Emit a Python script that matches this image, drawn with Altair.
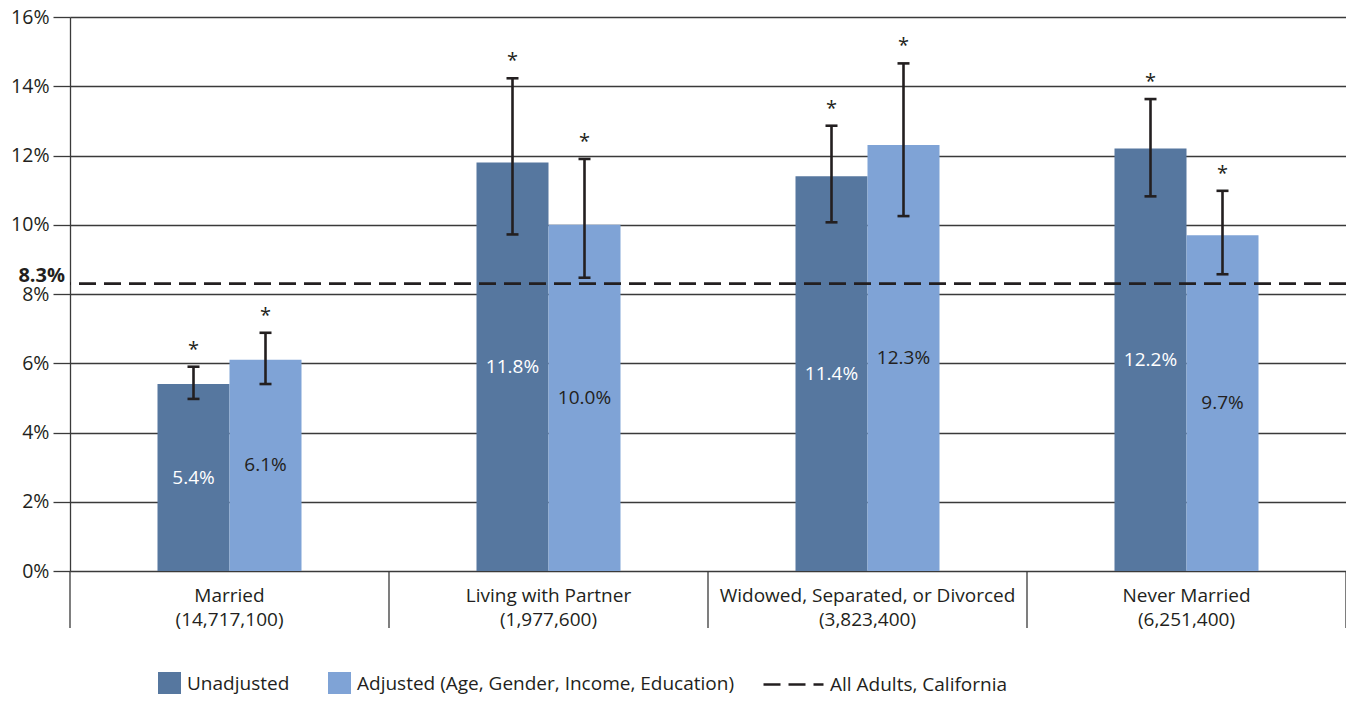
import altair as alt
import pandas as pd

categories = ["Married", "Living with Partner", "Widowed, Separated, or Divorced", "Never Married"]
populations = ["(14,717,100)", "(1,977,600)", "(3,823,400)", "(6,251,400)"]
series_names = ["Unadjusted", "Adjusted (Age, Gender, Income, Education)"]
unadjusted = [5.4, 11.8, 11.4, 12.2]
adjusted = [6.1, 10.0, 12.3, 9.7]
unadj_low = [4.97, 9.72, 10.07, 10.82]
unadj_high = [5.90, 14.23, 12.86, 13.63]
adj_low = [5.40, 8.47, 10.25, 8.57]
adj_high = [6.88, 11.90, 14.66, 10.98]
unadj_sig = ["*", "*", "*", "*"]
adj_sig = ["*", "*", "*", "*"]
all_adults_value = 8.3
all_adults_label = "All Adults, California"
y_ticks = [0, 2, 4, 6, 8, 10, 12, 14, 16]

DARK = "#56779f"
LIGHT = "#7fa3d6"
TXT = "#231f20"
GRID = "#3a3a3a"
FONT = "Open Sans"

W, H = 1276, 554
STEP = W / 4
GROUP = 144

cat_labels = [f"{c}|{p}" for c, p in zip(categories, populations)]

rows = []
for i, cl in enumerate(cat_labels):
    rows.append({"cat": cl, "series": series_names[0], "value": unadjusted[i],
                 "lo": unadj_low[i], "hi": unadj_high[i], "sig": unadj_sig[i]})
    rows.append({"cat": cl, "series": series_names[1], "value": adjusted[i],
                 "lo": adj_low[i], "hi": adj_high[i], "sig": adj_sig[i]})
df = pd.DataFrame(rows)
ref_df = pd.DataFrame({"value": [all_adults_value], "label": [all_adults_label]})
sep_df = pd.DataFrame({"cat": cat_labels})
one_df = pd.DataFrame({"k": [0]})

x_scale = alt.Scale(domain=cat_labels, paddingInner=0, paddingOuter=0)
x_axis = alt.Axis(title=None, labelExpr="split(datum.label, '|')", ticks=False, domain=False,
                  labelAngle=0, labelFontSize=19, labelPadding=15, labelLineHeight=24,
                  labelColor=TXT, grid=False, labelLimit=500, labelOverlap=False)


def mkx(**kw):
    return alt.X("cat:N", scale=x_scale, axis=x_axis, **kw)


off0 = (STEP - GROUP) / 2
xo = alt.XOffset("series:N", scale=alt.Scale(domain=series_names, paddingInner=0, paddingOuter=0,
                                             range=[off0, off0 + GROUP]))
y_scale = alt.Scale(domain=[0, 16], nice=False, zero=True)
y_axis = alt.Axis(title=None, values=y_ticks, labelExpr="datum.value + '%'", tickSize=17,
                  tickColor=GRID, tickWidth=1.3, grid=True, gridColor=GRID, gridWidth=1.3,
                  gridOpacity=1, domainColor=GRID, domainWidth=1.3, labelFontSize=19.5,
                  labelColor=TXT, labelPadding=4)

base = alt.Chart(df)

bars = base.mark_bar().encode(
    x=mkx(), xOffset=xo,
    y=alt.Y("value:Q", scale=y_scale, axis=y_axis),
    color=alt.Color("series:N", scale=alt.Scale(domain=series_names, range=[DARK, LIGHT]),
                    legend=alt.Legend(title=None, orient="none", legendX=88, legendY=655,
                                      direction="horizontal", symbolType="square",
                                      symbolSize=529, symbolStrokeWidth=0, symbolOpacity=1,
                                      labelFontSize=19, labelColor=TXT, labelFont=FONT,
                                      columnPadding=38, labelOffset=6, labelLimit=500)),
)

bar_labels = base.transform_calculate(
    mid="datum.value / 2", txt="format(datum.value, '.1f') + '%'"
).mark_text(fontSize=19, font=FONT, baseline="middle").encode(
    x=mkx(), xOffset=xo,
    y=alt.Y("mid:Q", scale=y_scale, axis=y_axis),
    text="txt:N",
    color=alt.condition(alt.datum.series == series_names[0], alt.value("white"), alt.value(TXT)),
)

err = base.mark_rule(strokeWidth=2.6, color=TXT).encode(
    x=mkx(), xOffset=xo,
    y=alt.Y("lo:Q", scale=y_scale, axis=y_axis), y2="hi:Q",
)
cap_lo = base.mark_tick(size=12, thickness=2.6, color=TXT, opacity=1).encode(
    x=mkx(), xOffset=xo, y=alt.Y("lo:Q", scale=y_scale, axis=y_axis))
cap_hi = base.mark_tick(size=12, thickness=2.6, color=TXT, opacity=1).encode(
    x=mkx(), xOffset=xo, y=alt.Y("hi:Q", scale=y_scale, axis=y_axis))

stars = base.mark_text(fontSize=20, font=FONT, color=TXT, baseline="bottom", dy=-7).encode(
    x=mkx(), xOffset=xo, y=alt.Y("hi:Q", scale=y_scale, axis=y_axis), text="sig:N")

ref_line = alt.Chart(ref_df).mark_rule(strokeWidth=2.6, color=TXT).encode(
    y=alt.Y("value:Q", scale=y_scale, axis=y_axis),
    strokeDash=alt.StrokeDash("label:N", scale=alt.Scale(domain=[all_adults_label], range=[[17, 8]]),
                              legend=alt.Legend(title=None, orient="none", legendX=692, legendY=636,
                                                symbolType="stroke", symbolSize=3600,
                                                symbolStrokeWidth=2.6, symbolStrokeColor=TXT,
                                                labelFontSize=19, labelColor=TXT, labelFont=FONT,
                                                labelOffset=5, labelLimit=500)),
)
ref_text = alt.Chart(ref_df).transform_calculate(
    txt="format(datum.value, '.1f') + '%'"
).mark_text(fontSize=20, font=FONT, fontWeight="bold", color=TXT, align="right",
            baseline="alphabetic", dy=-2).encode(
    x=alt.value(-5), y=alt.Y("value:Q", scale=y_scale, axis=y_axis), text="txt:N")

seps = alt.Chart(sep_df).mark_rule(strokeWidth=1.3, color=GRID).encode(
    x=mkx(bandPosition=0), y=alt.value(H), y2=alt.value(H + 57))
sep_end = alt.Chart(one_df).mark_rule(strokeWidth=1.3, color=GRID).encode(
    x=alt.value(W), y=alt.value(H), y2=alt.value(H + 57))

chart = alt.layer(bars, bar_labels, err, cap_lo, cap_hi, stars, ref_line, ref_text, seps, sep_end).properties(
    width=W, height=H,
    autosize=alt.AutoSizeParams(type="none"),
    padding={"left": 62, "top": 9, "right": 0, "bottom": 123},
).configure_view(stroke=None).configure(font=FONT)

chart.save("out.html", embed_options={"renderer": "svg", "actions": False})
